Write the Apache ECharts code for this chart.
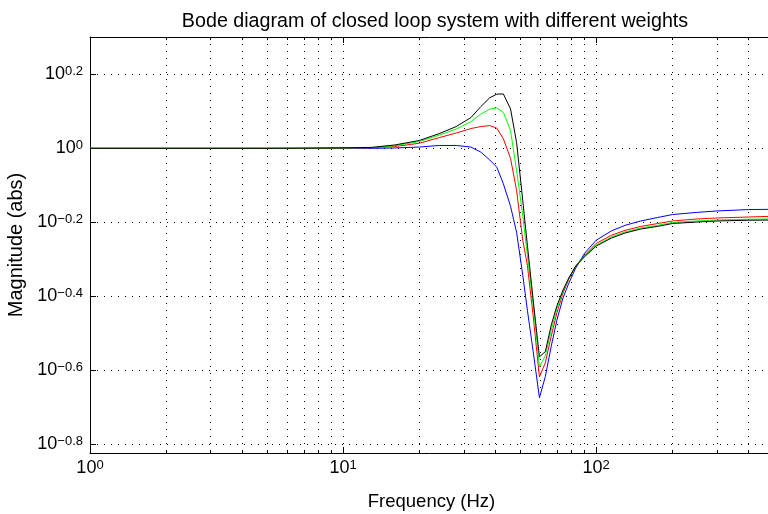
<!DOCTYPE html>
<html><head><meta charset="utf-8">
<script src="https://cdn.jsdelivr.net/npm/echarts@6/dist/echarts.min.js"></script>
<style>html,body{margin:0;padding:0;background:#fff}#c{width:768px;height:514px}</style>
</head><body><div id="c"></div>
<script>
const chartTitle = 'Bode diagram of closed loop system with different weights';
const xName = 'Frequency (Hz)';
const yName = 'Magnitude (abs)';
const xMin = 1, xMax = 500;
const yMin = 0.15, yMax = 2;
const yTickExponentStep = 0.2;

const freq = [1, 2, 3, 5, 7, 10, 13, 16, 20, 24, 28, 32, 35, 38, 40.5, 43, 45.9, 48.5, 51.3, 53.5, 56.4, 59.7, 63, 66.5, 70, 74, 78, 83, 90, 100, 115, 130, 150, 175, 200, 250, 300, 400, 500];

const magBlue = [1.000, 1.000, 1.000, 1.000, 1.000, 1.000, 1.000, 1.002, 1.008, 1.018, 1.018, 1.008, 0.977, 0.930, 0.889, 0.802, 0.697, 0.593, 0.454, 0.365, 0.282, 0.2116, 0.2415, 0.292, 0.343, 0.394, 0.432, 0.474, 0.520, 0.564, 0.598, 0.619, 0.636, 0.650, 0.662, 0.671, 0.677, 0.683, 0.684];
const magRed = [1.000, 1.000, 1.000, 1.000, 1.000, 1.002, 1.004, 1.011, 1.032, 1.069, 1.100, 1.131, 1.145, 1.152, 1.134, 1.061, 0.939, 0.770, 0.564, 0.483, 0.352, 0.241, 0.263, 0.311, 0.359, 0.406, 0.443, 0.480, 0.514, 0.553, 0.582, 0.600, 0.615, 0.626, 0.636, 0.644, 0.648, 0.652, 0.655];
const magGreen = [1.000, 1.000, 1.000, 1.000, 1.001, 1.002, 1.005, 1.016, 1.043, 1.086, 1.127, 1.181, 1.237, 1.276, 1.286, 1.251, 1.117, 0.871, 0.659, 0.514, 0.377, 0.2565, 0.2747, 0.323, 0.368, 0.411, 0.446, 0.480, 0.511, 0.547, 0.576, 0.594, 0.609, 0.619, 0.630, 0.636, 0.640, 0.643, 0.644];
const magBlack = [1.000, 1.000, 1.000, 1.000, 1.001, 1.003, 1.006, 1.021, 1.050, 1.096, 1.145, 1.211, 1.296, 1.370, 1.401, 1.403, 1.278, 1.037, 0.723, 0.547, 0.389, 0.273, 0.282, 0.333, 0.375, 0.414, 0.446, 0.480, 0.509, 0.544, 0.572, 0.590, 0.605, 0.615, 0.626, 0.632, 0.636, 0.639, 0.640];

const seriesList = [
  { name: 'w1', data: magBlue, color: '#0000ff' },
  { name: 'w2', data: magRed, color: '#ff0000' },
  { name: 'w3', data: magGreen, color: '#00ff00' },
  { name: 'w4', data: magBlack, color: '#000000' }
];

const FONT = '"Liberation Sans", Arial, Helvetica, sans-serif';
const dotted = { color: '#000', width: 1, type: [1, 6] };

function expLabel(v, decimals) {
  const e = Math.log10(v);
  const r = Math.round(e * Math.pow(10, decimals)) / Math.pow(10, decimals);
  if (Math.abs(e - r) > 1e-6) return '';
  let s = decimals ? r.toFixed(decimals) : String(r);
  if (r === 0) s = '0';
  s = s.replace('-', '\u2212');
  return '{b|10}{s|' + s + '}';
}
const richLabel = {
  b: { fontSize: 18, fontFamily: FONT, color: '#000', lineHeight: 18, verticalAlign: 'bottom' },
  s: { fontSize: 13, fontFamily: FONT, color: '#000', lineHeight: 13, verticalAlign: 'top', padding: [0, 0, 16, 0] }
};

const chart = echarts.init(document.getElementById('c'), null, { renderer: 'canvas' });
chart.setOption({
  animation: false,
  backgroundColor: '#fff',
  title: {
    text: chartTitle, left: 430, top: 7, textAlign: 'center',
    textStyle: { fontSize: 19.7, fontWeight: 'normal', color: '#000', fontFamily: FONT }
  },
  grid: { left: 90, top: 37, right: -5, bottom: 61, containLabel: false, outerBoundsMode: 'none' },
  xAxis: [{
    type: 'log', logBase: 10, min: xMin, max: xMax, position: 'bottom',
    name: xName, nameLocation: 'middle', nameGap: 33,
    nameTextStyle: { fontSize: 18.5, color: '#000', fontFamily: FONT },
    axisLine: { show: true, lineStyle: { color: '#000', width: 1 } },
    axisTick: { show: true, inside: true, length: 6, lineStyle: { color: '#000' } },
    minorTick: { show: true, splitNumber: 9, length: 3, lineStyle: { color: '#000' } },
    axisLabel: { showMaxLabel: false, margin: 6, formatter: v => expLabel(v, 0), rich: richLabel },
    splitLine: { show: true, lineStyle: dotted },
    minorSplitLine: { show: true, lineStyle: dotted }
  }, {
    type: 'log', logBase: 10, min: xMin, max: xMax, position: 'top',
    axisLine: { show: true, onZero: false, lineStyle: { color: '#000', width: 1 } },
    axisTick: { show: true, inside: true, length: 6, lineStyle: { color: '#000' } },
    minorTick: { show: true, splitNumber: 9, length: 3, lineStyle: { color: '#000' } },
    axisLabel: { show: false }, splitLine: { show: false }
  }],
  yAxis: {
    type: 'log', logBase: Math.pow(10, yTickExponentStep), min: yMin, max: yMax,
    name: yName, nameLocation: 'middle', nameGap: 60, nameRotate: 90,
    nameTextStyle: { fontSize: 20, color: '#000', fontFamily: FONT },
    axisLine: { show: true, lineStyle: { color: '#000', width: 1 } },
    axisTick: { show: true, inside: true, length: 6, lineStyle: { color: '#000' } },
    axisLabel: { showMinLabel: false, showMaxLabel: false, margin: 7, formatter: v => expLabel(v, 1), rich: richLabel },
    splitLine: { show: true, lineStyle: dotted }
  },
  series: seriesList.map(s => ({
    name: s.name, type: 'line', xAxisIndex: 0,
    data: freq.map((f, i) => [f, s.data[i]]),
    showSymbol: false, symbol: 'none', smooth: false,
    lineStyle: { color: s.color, width: 1 }, itemStyle: { color: s.color },
    clip: true
  }))
});
</script></body></html>
